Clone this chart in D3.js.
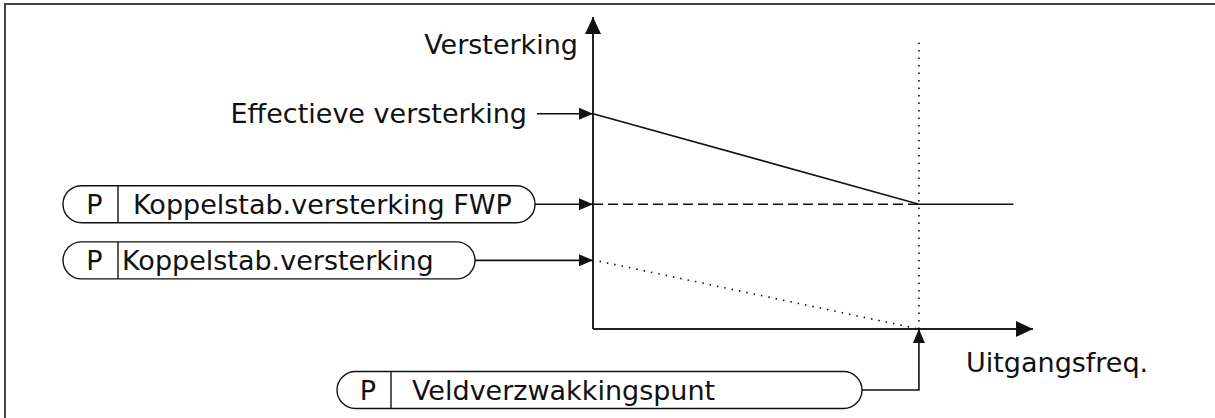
<!DOCTYPE html>
<html lang="nl">

<head>
    <meta charset="UTF-8">
    <title>Versterking</title>
    <script src="https://cdn.jsdelivr.net/npm/d3@7"></script>
    <style>
        body {
            margin: 0;
            background: #fff;
        }

        text {
            font-family: "DejaVu Sans", sans-serif;
            font-size: 27px;
            fill: #111;
        }

        .axis {
            stroke: #222;
            stroke-width: 2;
            fill: none;
        }

        .curve {
            stroke: #111;
            stroke-width: 1.6;
            fill: none;
        }

        .pill {
            stroke: #111;
            stroke-width: 1.4;
            fill: #fff;
        }
    </style>
</head>

<body>
</body>

<script>
    const width = 1215
    const height = 418

    // x: uitgangsfrequentie (1 = veldverzwakkingspunt), y: versterking
    const freq = [0, 1.0, 1.29]
    const effectiveGain = [0.69, 0.40, 0.40]
    const fwpGain = [0.40, 0.40]
    const baseGain = [0.22, 0.0]
    const fwpLineTop = 0.93

    const xMax = 1.35
    const yMax = 1.0

    const axisLabels = ['Versterking', 'Uitgangsfreq.']
    const effectiveLabel = 'Effectieve versterking'
    const params = ['Koppelstab.versterking FWP', 'Koppelstab.versterking', 'Veldverzwakkingspunt']

    const x = d3.scaleLinear().domain([0, xMax]).range([593, 1033])
    const y = d3.scaleLinear().domain([0, yMax]).range([329, 17])

    const svg = d3.select('body').append('svg')
        .attr('width', width)
        .attr('height', height)

    // pijlpunten
    const defs = svg.append('defs')
    defs.append('marker')
        .attr('id', 'big')
        .attr('markerUnits', 'userSpaceOnUse')
        .attr('viewBox', '0 0 17 16')
        .attr('refX', 17).attr('refY', 8)
        .attr('markerWidth', 17).attr('markerHeight', 16)
        .attr('orient', 'auto')
        .append('path').attr('d', 'M0,0 L17,8 L0,16 Z').attr('fill', '#111')
    defs.append('marker')
        .attr('id', 'small')
        .attr('markerUnits', 'userSpaceOnUse')
        .attr('viewBox', '0 0 14 12')
        .attr('refX', 14).attr('refY', 6)
        .attr('markerWidth', 14).attr('markerHeight', 12)
        .attr('orient', 'auto')
        .append('path').attr('d', 'M0,0 L14,6 L0,12 Z').attr('fill', '#111')

    // kader
    svg.append('rect')
        .attr('x', 5).attr('y', 4)
        .attr('width', width + 10).attr('height', height + 10)
        .attr('fill', 'none')
        .attr('stroke', '#444')
        .attr('stroke-width', 2)

    // assen
    svg.append('line').attr('class', 'axis')
        .attr('x1', x(0)).attr('y1', y(0))
        .attr('x2', x(0)).attr('y2', y(yMax))
        .attr('marker-end', 'url(#big)')
    svg.append('line').attr('class', 'axis')
        .attr('x1', x(0)).attr('y1', y(0))
        .attr('x2', x(xMax)).attr('y2', y(0))
        .attr('marker-end', 'url(#big)')

    const line = d3.line()
        .x(d => x(d[0]))
        .y(d => y(d[1]))

    // veldverzwakkingspunt, verticaal gestippeld
    svg.append('line').attr('class', 'curve')
        .attr('x1', x(freq[1])).attr('y1', y(0))
        .attr('x2', x(freq[1])).attr('y2', y(fwpLineTop))
        .attr('stroke-width', 1.3)
        .attr('stroke-dasharray', '1.5,6')

    // koppelstab.versterking, gestippeld
    svg.append('path').attr('class', 'curve')
        .attr('d', line([[0.02, baseGain[0] - 0.003], [freq[1], baseGain[1]]]))
        .attr('stroke-width', 1.3)
        .attr('stroke-dasharray', '1.5,6')

    // koppelstab.versterking FWP, gestreept
    svg.append('path').attr('class', 'curve')
        .attr('d', line(fwpGain.map((g, i) => [freq[i], g])))
        .attr('stroke-dasharray', '10,5')

    // effectieve versterking
    svg.append('path').attr('class', 'curve')
        .attr('d', line(effectiveGain.map((g, i) => [freq[i], g])))

    // aslabels
    svg.append('text')
        .attr('x', x(0) - 15).attr('y', 54)
        .attr('text-anchor', 'end')
        .text(axisLabels[0])
    svg.append('text')
        .attr('x', 966).attr('y', 372)
        .text(axisLabels[1])

    svg.append('text')
        .attr('x', 527).attr('y', y(effectiveGain[0]) + 9)
        .attr('text-anchor', 'end')
        .text(effectiveLabel)
    svg.append('line').attr('class', 'curve')
        .attr('x1', 537).attr('y1', y(effectiveGain[0]))
        .attr('x2', x(0)).attr('y2', y(effectiveGain[0]))
        .attr('marker-end', 'url(#small)')

    // parameterblokken
    const boxes = [
        { left: 63, right: 535, cy: y(fwpGain[0]), div: 118, tx: 133 },
        { left: 63, right: 475, cy: y(baseGain[0]), div: 118, tx: 122 },
        { left: 337, right: 862, cy: 390, div: 391, tx: 412 }
    ]
    const bh = 37

    boxes.forEach((b, i) => {
        svg.append('rect').attr('class', 'pill')
            .attr('x', b.left).attr('y', b.cy - bh / 2)
            .attr('width', b.right - b.left).attr('height', bh)
            .attr('rx', bh / 2).attr('ry', bh / 2)
        svg.append('line').attr('class', 'pill')
            .attr('x1', b.div).attr('y1', b.cy - bh / 2)
            .attr('x2', b.div).attr('y2', b.cy + bh / 2)
        svg.append('text')
            .attr('x', (b.left + 8 + b.div) / 2).attr('y', b.cy + 10)
            .attr('text-anchor', 'middle')
            .text('P')
        svg.append('text')
            .attr('x', b.tx).attr('y', b.cy + 10)
            .text(params[i])
    })

    // verbindingen naar de assen
    svg.append('line').attr('class', 'curve')
        .attr('x1', boxes[0].right).attr('y1', boxes[0].cy)
        .attr('x2', x(0)).attr('y2', boxes[0].cy)
        .attr('marker-end', 'url(#small)')
    svg.append('line').attr('class', 'curve')
        .attr('x1', boxes[1].right).attr('y1', boxes[1].cy)
        .attr('x2', x(0)).attr('y2', boxes[1].cy)
        .attr('marker-end', 'url(#small)')
    svg.append('path').attr('class', 'curve')
        .attr('d', 'M' + boxes[2].right + ',' + boxes[2].cy + ' H' + x(freq[1]) + ' V' + y(0))
        .attr('marker-end', 'url(#small)')
</script>

</html>
